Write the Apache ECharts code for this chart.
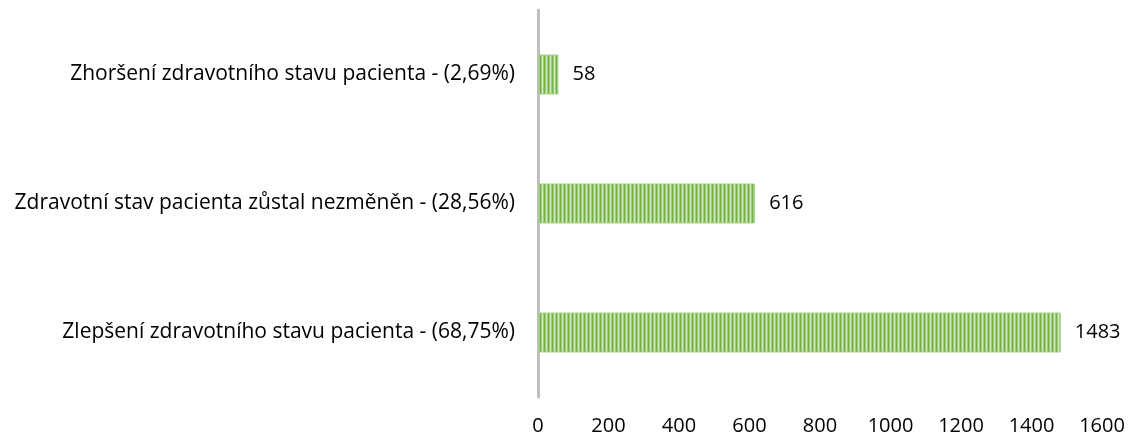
<!DOCTYPE html>
<html><head><meta charset="utf-8">
<script src="https://cdn.jsdelivr.net/npm/echarts@6/dist/echarts.min.js"></script>
<style>html,body{margin:0;padding:0;background:#fff}#c{width:1132px;height:440px}</style>
</head><body><div id="c"></div>
<script>
const categories = [
  'Zlepšení zdravotního stavu pacienta - (68,75%)',
  'Zdravotní stav pacienta zůstal nezměněn - (28,56%)',
  'Zhoršení zdravotního stavu pacienta - (2,69%)'
];
const values = [1483, 616, 58];
const axisMax = 1600;
const axisInterval = 200;

const FONT = 'Open Sans';
const pc = document.createElement('canvas');
pc.width = 4; pc.height = 4;
const g = pc.getContext('2d');
g.fillStyle = '#74b04a'; g.fillRect(0,0,4,4);
g.fillStyle = '#d2e9c2'; g.fillRect(2,0,1,4);
g.fillStyle = '#9fcb80'; g.fillRect(1,0,1,4); g.fillRect(3,0,1,4);

const chart = echarts.init(document.getElementById('c'));
chart.setOption({
  animation: false,
  grid: {left: 538, right: 30, top: 10, bottom: 43, containLabel: false},
  xAxis: {
    type: 'value', min: 0, max: axisMax, interval: axisInterval,
    axisLine: {show: false}, axisTick: {show: false}, splitLine: {show: false},
    axisLabel: {color: '#000', fontSize: 20, fontFamily: FONT, margin: 19,
      formatter: v => String(v)}
  },
  yAxis: {
    type: 'category', data: categories,
    axisLine: {show: true, lineStyle: {color: '#bfbfbf', width: 3}},
    axisTick: {show: false},
    axisLabel: {color: '#000', fontSize: 21, fontFamily: FONT, margin: 23}
  },
  series: [{
    type: 'bar', data: values, barWidth: '31%',
    itemStyle: {color: {image: pc, repeat: 'repeat'}, borderColor: '#a9d18e', borderWidth: 1},
    label: {show: true, position: 'right', distance: 14, color: '#000', fontSize: 20, fontFamily: FONT}
  }]
});
</script></body></html>
